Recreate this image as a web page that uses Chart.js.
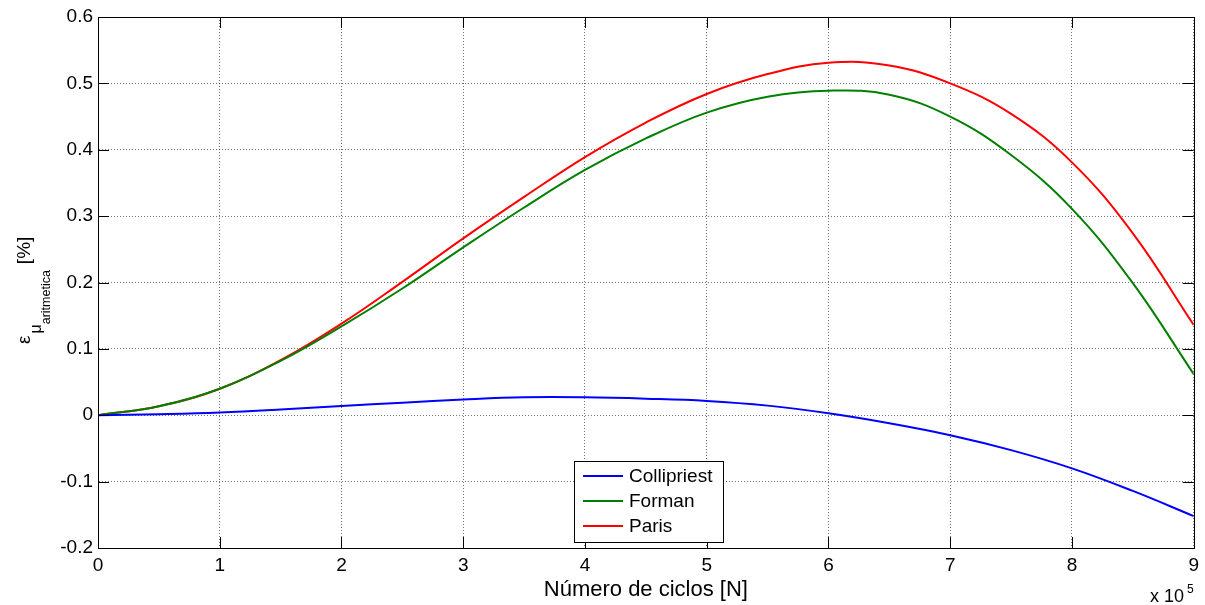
<!DOCTYPE html>
<html>
<head>
<meta charset="utf-8">
<script src="https://cdn.jsdelivr.net/npm/chart.js@4.4.1/dist/chart.umd.min.js"></script>
<style>
  html, body { margin: 0; padding: 0; background: #ffffff; }
  #wrap { width: 1205px; height: 605px; }
</style>
</head>
<body>
<div id="wrap"><canvas id="chart" width="1205" height="605"></canvas></div>
<script>
// Number of cycles (x axis), every 0.5 x 10^5
const ciclos = [0, 50000, 100000, 150000, 200000, 250000, 300000, 350000, 400000, 450000,
  500000, 550000, 600000, 650000, 700000, 750000, 800000, 850000, 900000];

// Error values [%]
const collipriest = [0, 0.0015, 0.004, 0.0085, 0.014, 0.019, 0.0237, 0.027, 0.027, 0.025,
  0.0216, 0.0145, 0.003, -0.012, -0.030, -0.0525, -0.080, -0.114, -0.152];
const forman = [0, 0.0135, 0.040, 0.082, 0.134, 0.191, 0.253, 0.313, 0.3695, 0.417,
  0.456, 0.480, 0.489, 0.483, 0.450, 0.392, 0.311, 0.199, 0.062];
const paris = [0, 0.0136, 0.040, 0.083, 0.138, 0.201, 0.2665, 0.329, 0.389, 0.441,
  0.484, 0.514, 0.531, 0.527, 0.500, 0.454, 0.381, 0.274, 0.136];

const seriesNames = ["Collipriest", "Forman", "Paris"];
const seriesColors = ["#0000ff", "#008000", "#ff0000"];

const xTicks = [0, 1, 2, 3, 4, 5, 6, 7, 8, 9];
const yTicks = [-0.2, -0.1, 0, 0.1, 0.2, 0.3, 0.4, 0.5, 0.6];

const FONT = "'Liberation Sans', Arial, sans-serif";

const toPoints = (vals) => ciclos.map((c, i) => ({ x: c, y: vals[i] }));

// Box, inward ticks, axis labels and legend, MATLAB style
const matlabBits = {
  id: "matlabBits",
  afterDraw(chart) {
    const ctx = chart.ctx;
    const { left, right, top, bottom } = chart.chartArea;
    const xs = chart.scales.x;
    const ys = chart.scales.y;
    const tl = 11;

    ctx.save();
    ctx.strokeStyle = "#000000";
    ctx.lineWidth = 1;

    // inward ticks on all four sides
    ctx.beginPath();
    xTicks.forEach((t) => {
      const px = Math.round(xs.getPixelForValue(t * 1e5)) + 0.5;
      ctx.moveTo(px, bottom); ctx.lineTo(px, bottom - tl);
      ctx.moveTo(px, top); ctx.lineTo(px, top + tl);
    });
    yTicks.forEach((t) => {
      const py = Math.round(ys.getPixelForValue(t)) + 0.5;
      ctx.moveTo(left, py); ctx.lineTo(left + tl, py);
      ctx.moveTo(right, py); ctx.lineTo(right - tl, py);
    });
    ctx.stroke();

    // full box
    ctx.strokeRect(Math.round(left) + 0.5, Math.round(top) + 0.5,
      Math.round(right - left), Math.round(bottom - top));

    // x label
    ctx.fillStyle = "#000000";
    ctx.font = "22px " + FONT;
    ctx.textAlign = "center";
    ctx.textBaseline = "middle";
    ctx.fillText("Número de ciclos [N]", (left + right) / 2, 590);

    // x 10^5 multiplier
    ctx.textAlign = "left";
    ctx.textBaseline = "alphabetic";
    ctx.font = "18px " + FONT;
    ctx.fillText("x 10", 1150, 602);
    ctx.font = "12px " + FONT;
    ctx.fillText("5", 1187, 593);

    // y label with nested subscripts, rotated
    ctx.save();
    ctx.translate(30, 344);
    ctx.rotate(-Math.PI / 2);
    let pos = 0;
    ctx.font = "19px " + FONT;
    ctx.fillText("ε", pos, 0);
    pos += ctx.measureText("ε").width + 2;
    ctx.font = "16px " + FONT;
    ctx.fillText("μ", pos, 11);
    pos += ctx.measureText("μ").width;
    ctx.font = "12.5px " + FONT;
    ctx.fillText("aritmetica", pos, 20);
    pos += ctx.measureText("aritmetica").width + 6;
    ctx.font = "19px " + FONT;
    ctx.fillText("[%]", pos, 0);
    ctx.restore();

    // legend box
    const lx = 574, ly = 461, lw = 149, lh = 81;
    ctx.fillStyle = "#ffffff";
    ctx.fillRect(lx, ly, lw, lh);
    ctx.strokeRect(lx + 0.5, ly + 0.5, lw, lh);
    const rows = [476, 501, 526];
    ctx.font = "19px " + FONT;
    ctx.textBaseline = "middle";
    seriesNames.forEach((name, i) => {
      ctx.strokeStyle = seriesColors[i];
      ctx.lineWidth = 2;
      ctx.beginPath();
      ctx.moveTo(583, rows[i]);
      ctx.lineTo(623, rows[i]);
      ctx.stroke();
      ctx.fillStyle = "#000000";
      ctx.fillText(name, 629, rows[i] + 1);
    });
    ctx.restore();
  },
};

new Chart(document.getElementById("chart"), {
  type: "line",
  plugins: [matlabBits],
  data: {
    datasets: [collipriest, forman, paris].map((vals, i) => ({
      label: seriesNames[i],
      data: toPoints(vals),
      borderColor: seriesColors[i],
      borderWidth: 2,
      pointRadius: 0,
      fill: false,
      tension: 0.4,
    })),
  },
  options: {
    responsive: false,
    animation: false,
    layout: { padding: { top: 17, right: 9, left: 0, bottom: 0 } },
    plugins: {
      legend: { display: false },
      tooltip: { enabled: false },
    },
    scales: {
      x: {
        type: "linear",
        min: 0,
        max: 900000,
        afterFit: (scale) => { scale.height = 57; },
        afterBuildTicks: (scale) => {
          scale.ticks = xTicks.map((t) => ({ value: t * 1e5 }));
        },
        ticks: {
          color: "#000000",
          font: { family: FONT, size: 19 },
          padding: 6,
          maxRotation: 0,
          callback: (v) => String(Math.round(v / 1e5)),
        },
        grid: { color: "rgba(0,0,0,0.55)", drawTicks: false },
        border: { display: true, color: "#000000", dash: [1, 2] },
      },
      y: {
        type: "linear",
        min: -0.2,
        max: 0.6,
        afterFit: (scale) => { scale.width = 98; },
        afterBuildTicks: (scale) => {
          scale.ticks = yTicks.map((t) => ({ value: t }));
        },
        ticks: {
          color: "#000000",
          font: { family: FONT, size: 19 },
          padding: 5,
          callback: (v) => String(Math.round(v * 10) / 10),
        },
        grid: { color: "rgba(0,0,0,0.55)", drawTicks: false },
        border: { display: true, color: "#000000", dash: [1, 2] },
      },
    },
  },
});
</script>
</body>
</html>
